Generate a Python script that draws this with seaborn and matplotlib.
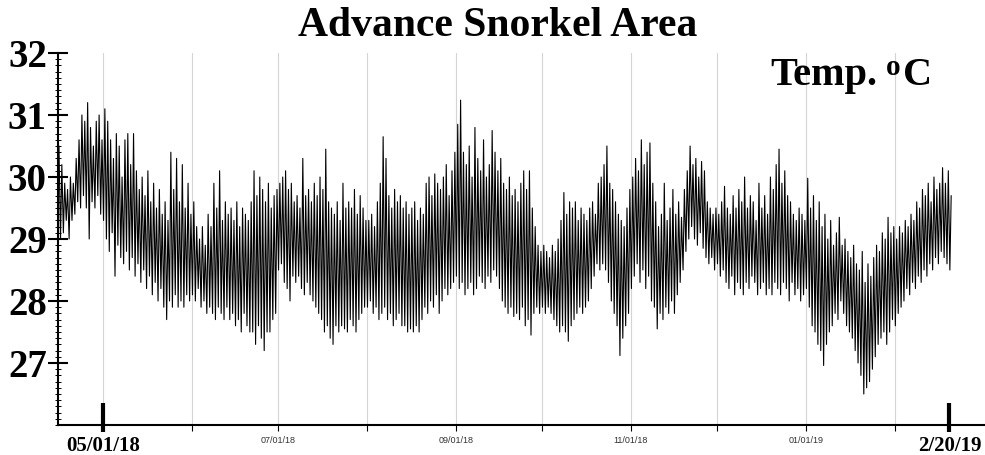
import numpy as np
import pandas as pd
import matplotlib
matplotlib.use("Agg")
import matplotlib.pyplot as plt
import matplotlib.dates as mdates
from matplotlib.path import Path
from matplotlib.ticker import MultipleLocator
import seaborn as sns

# Daily highs / lows (deg C), 15 Apr 2018 - 20 Feb 2019
hi_apr = [30.5, 30.2, 29.9, 29.8, 30.0, 29.9, 30.3, 30.6, 31.0, 30.9, 31.2, 30.8, 30.5, 30.9, 31.0, 30.6]
lo_apr = [29.2, 29.0, 29.1, 29.3, 29.0, 29.3, 29.4, 29.6, 29.5, 29.7, 29.5, 29.0, 29.6, 29.5, 29.7, 29.4]
hi_may = [31.1, 30.9, 30.6, 30.3, 30.7, 30.5, 30.0, 30.6, 30.7, 30.2, 30.7, 30.1, 29.8, 30.0, 29.7, 30.1,
          29.6, 29.9, 29.5, 29.8, 29.4, 29.6, 29.3, 30.4, 29.8, 30.3, 29.6, 30.2, 29.5, 29.9, 29.4]
lo_may = [29.3, 29.0, 28.8, 29.1, 28.4, 28.9, 28.7, 28.6, 28.8, 28.5, 28.7, 28.4, 28.6, 28.3, 28.5, 28.2,
          28.4, 28.1, 28.3, 28.0, 28.2, 27.9, 27.7, 28.0, 27.9, 28.1, 27.9, 28.0, 27.9, 28.1, 28.0]
hi_jun = [29.6, 29.2, 29.0, 29.2, 28.9, 29.4, 29.2, 29.9, 29.5, 30.1, 29.3, 29.6, 29.4, 29.5, 29.3,
          29.6, 29.2, 29.5, 29.4, 29.3, 29.6, 30.1, 29.7, 30.0, 29.8, 29.6, 29.9, 29.5, 29.7, 29.8]
lo_jun = [28.1, 28.0, 28.2, 27.9, 28.0, 27.8, 27.9, 27.8, 27.7, 27.9, 27.8, 27.7, 27.9, 27.7, 27.8,
          27.6, 27.7, 27.5, 27.8, 27.6, 27.5, 27.5, 27.3, 27.6, 27.4, 27.2, 27.5, 27.5, 27.7, 27.8]
hi_jul = [29.9, 30.0, 30.1, 29.8, 29.9, 29.6, 29.7, 29.5, 30.3, 29.7, 29.8, 29.6, 29.9, 29.7, 30.0, 29.8,
          30.45, 29.6, 29.5, 29.4, 29.6, 29.3, 29.9, 29.5, 29.6, 29.5, 29.8, 29.4, 29.7, 29.5, 29.3]
lo_jul = [28.5, 28.6, 28.3, 28.2, 28.0, 28.4, 28.3, 28.4, 28.2, 28.1, 28.3, 28.1, 28.0, 27.9, 27.8, 27.7,
          27.5, 27.6, 27.4, 27.3, 27.6, 27.5, 27.6, 27.55, 27.5, 27.7, 27.6, 27.5, 27.7, 27.8, 27.9]
hi_aug = [29.3, 29.4, 29.2, 29.6, 29.9, 30.65, 30.3, 29.7, 29.5, 29.8, 29.6, 29.7, 29.5, 29.6, 29.4, 29.5,
          29.6, 29.3, 29.5, 29.4, 29.9, 30.0, 29.7, 30.05, 29.9, 29.8, 30.0, 30.2, 29.7, 30.1, 30.4]
lo_aug = [27.9, 28.0, 27.8, 27.9, 27.7, 27.8, 27.9, 27.7, 27.8, 27.6, 27.7, 27.8, 27.6, 27.6, 27.5, 27.55,
          27.5, 27.6, 27.5, 27.7, 27.9, 27.8, 28.0, 27.9, 28.1, 27.8, 28.0, 28.2, 28.1, 28.2, 28.3]
hi_sep = [30.85, 31.24, 30.4, 30.2, 30.5, 30.0, 30.8, 30.3, 30.1, 30.6, 30.0, 30.2, 30.75, 30.4, 30.1,
          30.3, 29.9, 29.8, 30.0, 29.7, 29.8, 29.6, 29.9, 30.1, 29.8, 30.1, 29.5, 29.2, 28.9, 28.8]
lo_sep = [28.4, 28.2, 28.3, 28.1, 28.2, 28.3, 28.1, 28.2, 28.4, 28.3, 28.2, 28.4, 28.3, 28.5, 28.4,
          28.2, 28.0, 27.9, 27.8, 27.9, 27.75, 27.8, 27.7, 27.9, 27.6, 27.7, 27.45, 27.8, 27.9, 27.8]
hi_oct = [28.9, 28.8, 28.7, 28.9, 28.8, 29.0, 29.3, 29.75, 29.4, 29.6, 29.5, 29.6, 29.3, 29.5, 29.4, 29.3,
          29.5, 29.6, 29.4, 29.9, 30.0, 30.2, 30.5, 29.9, 29.8, 29.6, 29.4, 29.3, 29.2, 29.5, 29.8]
lo_oct = [27.9, 27.8, 27.9, 27.8, 27.7, 27.6, 27.5, 27.6, 27.5, 27.35, 27.6, 27.7, 27.8, 27.9, 27.8, 27.9,
          28.0, 28.2, 28.4, 28.6, 28.5, 28.6, 28.5, 28.3, 28.0, 27.8, 27.6, 27.12, 27.4, 27.6, 27.8]
hi_nov = [30.0, 30.3, 30.1, 30.6, 30.2, 30.4, 30.55, 29.9, 29.6, 29.2, 29.4, 29.9, 29.3, 29.5, 29.8,
          29.4, 29.6, 29.35, 29.8, 30.1, 30.5, 30.2, 30.3, 30.0, 30.25, 30.1, 29.6, 29.5, 29.4, 29.5]
lo_nov = [28.2, 28.4, 28.6, 28.3, 28.5, 28.2, 28.4, 28.0, 27.9, 27.55, 27.8, 27.7, 27.9, 27.8, 28.0,
          27.8, 28.1, 28.3, 28.5, 28.8, 29.0, 29.2, 29.0, 28.9, 29.1, 28.85, 28.7, 28.6, 28.7, 28.5]
hi_dec = [29.4, 29.6, 29.85, 29.5, 29.4, 29.7, 29.5, 29.8, 29.6, 30.0, 29.5, 29.7, 29.6, 29.3, 29.9, 29.5,
          29.7, 29.4, 30.0, 29.8, 30.2, 30.45, 29.9, 30.1, 29.7, 29.6, 29.4, 29.3, 29.5, 29.4, 29.3]
lo_dec = [28.6, 28.4, 28.5, 28.3, 28.2, 28.4, 28.1, 28.3, 28.2, 28.1, 28.3, 28.2, 28.4, 28.3, 28.1, 28.2,
          28.3, 28.1, 28.2, 28.1, 28.3, 28.2, 28.1, 28.3, 28.2, 28.0, 28.3, 28.1, 28.2, 28.0, 28.1]
hi_jan = [29.98, 29.5, 29.7, 29.3, 29.6, 29.2, 29.4, 29.0, 29.3, 28.9, 29.1, 29.35, 28.9, 29.0, 28.8, 28.7,
          28.9, 28.6, 28.5, 28.8, 28.3, 28.6, 28.4, 28.7, 28.9, 28.8, 29.1, 29.0, 29.35, 29.1, 29.2]
lo_jan = [28.2, 27.9, 27.6, 27.5, 27.3, 27.2, 26.96, 27.3, 27.5, 27.6, 27.8, 27.7, 28.0, 27.8, 27.6, 27.5,
          27.4, 27.2, 27.0, 26.8, 26.5, 26.6, 26.7, 26.9, 27.1, 27.3, 27.4, 27.5, 27.3, 27.5, 27.7]
hi_feb = [29.0, 29.2, 29.1, 29.3, 29.2, 29.4, 29.3, 29.6, 29.5, 29.8, 29.7, 29.9, 29.6, 30.0, 29.8,
          29.9, 30.15, 29.9, 30.1, 29.7]
lo_feb = [27.6, 27.8, 27.9, 28.0, 28.2, 28.1, 28.3, 28.2, 28.4, 28.3, 28.5, 28.4, 28.6, 28.5, 28.7,
          28.6, 28.8, 28.7, 28.6, 28.5]

daily_hi = np.concatenate([hi_apr, hi_may, hi_jun, hi_jul, hi_aug, hi_sep, hi_oct, hi_nov, hi_dec, hi_jan, hi_feb])
daily_lo = np.concatenate([lo_apr, lo_may, lo_jun, lo_jul, lo_aug, lo_sep, lo_oct, lo_nov, lo_dec, lo_jan, lo_feb])
days = pd.date_range("2018-04-15", "2019-02-20", freq="D")
assert len(days) == len(daily_hi) == len(daily_lo)

# tick dates / labels
tick_dates = pd.to_datetime(["2018-05-01", "2018-06-01", "2018-07-01", "2018-08-01", "2018-09-01",
                             "2018-10-01", "2018-11-01", "2018-12-01", "2019-01-01", "2019-02-01",
                             "2019-02-20"])
tick_labels = ["05/01/18", "", "07/01/18", "", "09/01/18", "", "11/01/18", "", "01/01/19", "", "2/20/19"]
y_ticks = [27, 28, 29, 30, 31, 32]

# night low then afternoon high for each day
df = pd.concat([
    pd.DataFrame({"time": days + pd.Timedelta(hours=4), "temp": daily_lo}),
    pd.DataFrame({"time": days + pd.Timedelta(hours=15), "temp": daily_hi}),
]).sort_values("time")

sns.set_theme(style="white")
plt.rcParams["font.family"] = ["Liberation Serif", "DejaVu Serif"]
plt.rcParams["text.color"] = "black"

fig = plt.figure(figsize=(9.85, 4.55), dpi=100)
ax = fig.add_axes([58 / 985, 1 - 425 / 455, (985 - 58) / 985, (425 - 53) / 455])

sns.lineplot(data=df, x="time", y="temp", color="black", linewidth=0.8, estimator=None, ax=ax)
ax.set_xlabel("")
ax.set_ylabel("")

ax.set_ylim(26, 32)
ax.set_xlim(pd.Timestamp("2018-04-15 07:00"), pd.Timestamp("2019-03-04 10:00"))

sns.despine(ax=ax)
for side in ("left", "bottom"):
    ax.spines[side].set_color("black")
    ax.spines[side].set_linewidth(1.5)

# y axis
ax.set_yticks(y_ticks)
ax.yaxis.set_minor_locator(MultipleLocator(0.1))
ax.tick_params(axis="y", which="major", direction="inout", length=15, width=1.5, color="black",
               labelsize=28, pad=0.5, left=True, labelcolor="black")
ax.tick_params(axis="y", which="minor", direction="inout", length=4, width=0.7, color="black", left=True)
for lbl in ax.get_yticklabels():
    lbl.set_fontweight("bold")

# x axis
ax.set_xticks(mdates.date2num(tick_dates))
ax.set_xticklabels(tick_labels)
ax.tick_params(axis="x", which="major", direction="out", length=4, width=0.8, color="black",
               labelsize=6.5, pad=4, bottom=True, labelcolor="#333333")
for lbl in ax.get_xticklabels():
    lbl.set_family("Liberation Sans")
ax.grid(True, axis="x", color="#d4d4d4", linewidth=0.8)
ax.grid(False, axis="y")

# thick start / end markers with big labels
bar = Path([(0, -7), (0, 22)], [Path.MOVETO, Path.LINETO])
ticks = ax.xaxis.get_major_ticks()
for tk in (ticks[0], ticks[-1]):
    tk.tick1line.set_marker(bar)
    tk.tick1line.set_markersize(31.7)
    tk.tick1line.set_markeredgewidth(3)
    tk.label1.set_family("Liberation Serif")
    tk.label1.set_fontsize(15)
    tk.label1.set_fontweight("bold")
    tk.label1.set_color("black")
ticks[-1].gridline.set_visible(False)

fig.text(0.505, 1 - 36 / 455, "Advance Snorkel Area", ha="center", va="baseline",
         fontsize=30, fontweight="bold", color="black")
# "Temp. oC" with a raised o, as in the original
fig.text(770 / 985, 1 - 85 / 455, "Temp.", ha="left", va="baseline",
         fontsize=29, fontweight="bold", color="black")
fig.text(886 / 985, 1 - 75 / 455, "o", ha="left", va="baseline",
         fontsize=21, fontweight="bold", color="black")
fig.text(903 / 985, 1 - 85 / 455, "C", ha="left", va="baseline",
         fontsize=29, fontweight="bold", color="black")

fig.savefig("out.png", dpi=100, facecolor="white")
